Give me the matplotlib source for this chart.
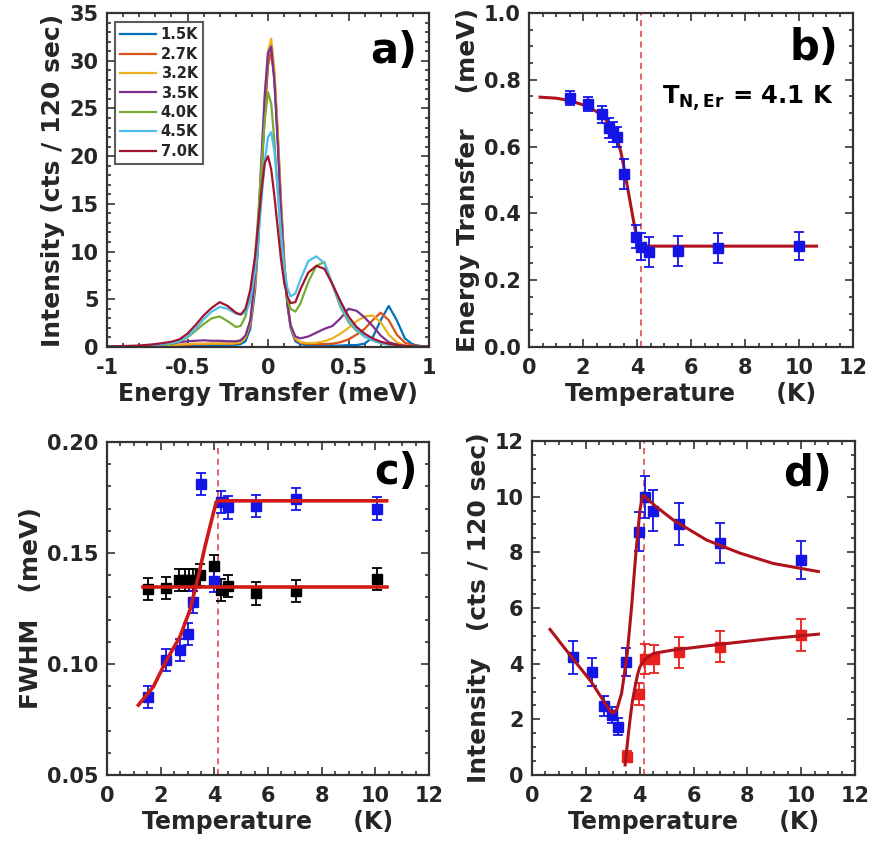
import numpy as np
import matplotlib
matplotlib.use("Agg")
import matplotlib.pyplot as plt
from matplotlib.ticker import MultipleLocator

plt.rcParams['font.family'] = ['DejaVu Sans']
plt.rcParams['font.weight'] = 'bold'
plt.rcParams['axes.labelweight'] = 'bold'
TXT = '#262626'

# ---------------- Panel a: spectra ----------------
E_grid = [-1.0, -0.8, -0.7, -0.6, -0.55, -0.5, -0.45, -0.4, -0.35, -0.3, -0.25, -0.2,
          -0.17, -0.14, -0.11, -0.08, -0.06, -0.04, -0.02, 0.0, 0.02, 0.04, 0.06, 0.08,
          0.1, 0.12, 0.14, 0.17, 0.2, 0.25, 0.3, 0.35, 0.4, 0.45, 0.5, 0.55, 0.6, 0.65,
          0.7, 0.75, 0.8, 0.85, 0.9, 0.95, 1.0]
spec_labels = ['1.5K', '2.7K', '3.2K', '3.5K', '4.0K', '4.5K', '7.0K']
spec_colors = ['#0072BD', '#D95319', '#EDB120', '#7E2F8E', '#77AC30', '#4DBEEE', '#A2142F']
I_1p5 = [0.05, 0.05, 0.05, 0.1, 0.1, 0.15, 0.15, 0.2, 0.2, 0.2, 0.2, 0.25, 0.3, 0.6, 1.9, 6.0,
         11.0, 17.8, 24.6, 29.6, 31.0, 28.0, 22.0, 15.0, 8.8, 4.5, 2.0, 0.6, 0.3, 0.2, 0.15,
         0.15, 0.15, 0.15, 0.2, 0.2, 0.35, 1.0, 2.8, 4.3, 2.8, 0.9, 0.25, 0.1, 0.05]
I_2p7 = [0.05, 0.05, 0.1, 0.15, 0.2, 0.25, 0.3, 0.3, 0.35, 0.35, 0.35, 0.35, 0.5, 1.0, 2.4, 6.6,
         12.0, 18.6, 25.0, 29.5, 31.0, 28.5, 22.5, 15.5, 9.2, 4.8, 2.2, 0.8, 0.45, 0.3, 0.3,
         0.3, 0.35, 0.5, 0.8, 1.3, 1.9, 2.8, 3.6, 2.8, 1.3, 0.45, 0.15, 0.08, 0.05]
I_3p2 = [0.05, 0.05, 0.1, 0.2, 0.25, 0.3, 0.35, 0.35, 0.35, 0.35, 0.35, 0.4, 0.5, 1.0, 2.5, 6.8,
         12.3, 19.2, 26.0, 31.0, 32.3, 29.0, 22.8, 15.6, 9.2, 4.8, 2.2, 0.9, 0.5, 0.4, 0.45,
         0.6, 0.9, 1.4, 2.0, 2.7, 3.2, 3.3, 2.6, 1.3, 0.5, 0.15, 0.08, 0.05, 0.05]
I_3p5 = [0.05, 0.1, 0.2, 0.35, 0.5, 0.6, 0.65, 0.7, 0.65, 0.65, 0.6, 0.6, 0.7, 1.2, 2.8, 7.5,
         13.2, 20.0, 26.5, 30.8, 31.5, 27.8, 21.5, 14.6, 8.6, 4.6, 2.3, 1.1, 0.9, 1.1, 1.5,
         1.9, 2.2, 3.0, 4.0, 3.8, 3.1, 2.2, 1.2, 0.5, 0.25, 0.1, 0.05, 0.05, 0.05]
I_4p0 = [0.05, 0.1, 0.15, 0.35, 0.6, 1.0, 1.7, 2.4, 3.0, 3.2, 2.7, 2.1, 2.2, 3.2, 5.5, 9.5,
         14.0, 19.0, 23.8, 26.7, 25.5, 21.5, 16.5, 11.5, 7.5, 5.0, 4.0, 3.7, 4.5, 6.8, 8.5,
         8.9, 6.5, 4.2, 2.6, 1.7, 1.1, 0.7, 0.4, 0.25, 0.15, 0.1, 0.08, 0.05, 0.05]
I_4p5 = [0.05, 0.1, 0.2, 0.4, 0.6, 1.1, 1.9, 2.9, 3.7, 4.2, 4.0, 3.5, 3.4, 3.6, 4.8, 8.0,
         11.5, 15.5, 19.5, 22.0, 22.5, 20.5, 16.5, 12.0, 8.5, 6.2, 5.3, 5.6, 7.0, 9.0, 9.5,
         8.8, 6.6, 4.4, 2.8, 1.8, 1.1, 0.7, 0.4, 0.25, 0.15, 0.1, 0.08, 0.05, 0.05]
I_7p0 = [0.05, 0.15, 0.3, 0.55, 0.8, 1.4, 2.3, 3.3, 4.1, 4.7, 4.3, 3.6, 3.4, 4.0, 6.0, 9.5,
         13.0, 16.5, 19.3, 20.0, 18.6, 15.8, 12.5, 9.3, 6.8, 5.3, 4.6, 4.7, 6.0, 7.8, 8.5,
         8.2, 6.6, 4.8, 3.2, 2.1, 1.4, 0.9, 0.55, 0.35, 0.2, 0.12, 0.08, 0.05, 0.05]
spectra = [I_1p5, I_2p7, I_3p2, I_3p5, I_4p0, I_4p5, I_7p0]

# ---------------- Panel b: energy transfer ----------------
Tb = [1.5, 2.2, 2.7, 2.95, 3.1, 3.25, 3.5, 3.95, 4.15, 4.45, 5.5, 7.0, 10.0]
Eb = [0.745, 0.728, 0.697, 0.657, 0.645, 0.63, 0.518, 0.33, 0.30, 0.285, 0.288, 0.296, 0.302]
Eb_err = [0.02, 0.02, 0.025, 0.03, 0.03, 0.03, 0.045, 0.035, 0.04, 0.045, 0.045, 0.045, 0.042]
Tb_fit = [0.41, 1.0, 1.5, 2.0, 2.5, 2.75, 3.0, 3.25, 3.4, 3.5, 3.6, 3.7, 3.8, 3.9, 4.0, 4.1, 4.2, 10.65]
Eb_fit = [0.748, 0.745, 0.738, 0.725, 0.705, 0.69, 0.665, 0.625, 0.585, 0.545, 0.50, 0.455,
          0.41, 0.365, 0.33, 0.308, 0.302, 0.302]

# ---------------- Panel c: FWHM ----------------
Tc_blue = [1.52, 2.2, 2.72, 3.0, 3.2, 3.5, 3.97, 4.25, 4.52, 5.55, 7.05, 10.05]
Wc_blue = [0.0853, 0.1018, 0.1063, 0.1134, 0.128, 0.181, 0.1375, 0.1728, 0.1705, 0.171, 0.1745, 0.170]
Wc_blue_err = [0.005] * 12
Tc_black = [1.52, 2.2, 2.7, 2.9, 3.05, 3.2, 3.45, 4.0, 4.25, 4.52, 5.55, 7.05, 10.05]
Wc_black = [0.1338, 0.1344, 0.138, 0.138, 0.138, 0.138, 0.140, 0.1443, 0.1335, 0.1352, 0.1318, 0.1329, 0.1383]
Wc_black_err = [0.005] * 13
Tc_fit_blue = [1.17, 1.73, 2.22, 2.72, 3.09, 3.4, 3.65, 3.9, 4.07, 4.15, 10.42]
Wc_fit_blue = [0.0815, 0.0898, 0.1018, 0.1123, 0.1243, 0.1393, 0.1528, 0.1649, 0.173, 0.1735, 0.1735]
Tc_fit_black = [1.34, 10.42]
Wc_fit_black = [0.1347, 0.1347]

# ---------------- Panel d: intensity ----------------
Td_blue = [1.51, 2.22, 2.69, 2.96, 3.21, 3.49, 3.99, 4.2, 4.51, 5.47, 6.98, 9.98]
Id_blue = [4.23, 3.71, 2.48, 2.16, 1.74, 4.05, 8.74, 10.0, 9.5, 9.02, 8.35, 7.73]
Id_blue_err = [0.6, 0.5, 0.35, 0.3, 0.3, 0.5, 0.7, 0.75, 0.75, 0.75, 0.72, 0.68]
Td_red = [3.52, 3.99, 4.2, 4.52, 5.47, 6.98, 9.98]
Id_red = [0.66, 2.9, 4.17, 4.16, 4.41, 4.61, 5.03]
Id_red_err = [0.2, 0.4, 0.55, 0.5, 0.55, 0.55, 0.57]
Td_fit_blue = [0.67, 1.5, 2.2, 2.6, 2.9, 3.0, 3.15, 3.33, 3.54, 3.7, 3.86, 4.01, 4.1, 4.14,
               4.6, 5.25, 6.49, 7.73, 8.96, 10.64]
Id_fit_blue = [5.23, 4.2, 3.35, 2.75, 2.3, 2.22, 2.35, 2.94, 4.37, 6.05, 7.97, 9.52, 10.0, 10.05,
               9.65, 9.16, 8.44, 7.97, 7.6, 7.31]
Td_fit_red = [3.46, 3.55, 3.64, 3.73, 3.83, 3.92, 4.01, 4.2, 4.51, 5.25, 7.11, 8.96, 10.64]
Id_fit_red = [0.36, 1.2, 1.98, 2.65, 3.17, 3.6, 3.89, 4.16, 4.37, 4.49, 4.71, 4.91, 5.06]

T_neel = 4.15

# ---------------- Figure ----------------
W, H = 872, 846
fig = plt.figure(figsize=(W / 100, H / 100), dpi=100)

XL = 17
YL = 18


def rect(l, r, t, b):
    return [l / W, 1 - b / H, (r - l) / W, (b - t) / H]


def style(ax):
    for s in ax.spines.values():
        s.set_linewidth(1.6)
        s.set_color('#333333')
    ax.tick_params(which='both', direction='in', top=True, right=True, colors='#333333',
                   labelcolor=TXT, labelsize=15, width=1.2)
    ax.tick_params(which='major', length=6, pad=6)
    ax.tick_params(axis='x', which='major', pad=8)
    ax.tick_params(which='minor', length=3)
    for lab in ax.get_xticklabels() + ax.get_yticklabels():
        lab.set_fontweight('bold')


FIT_DARK = '#B0121B'
FIT_C = '#D01A1A'
BLUE = '#1414E6'
RED = '#E8201E'
VCOL = '#E0393E'

# Panel a
axa = fig.add_axes(rect(107, 429, 13, 347))
for y, c, lab in zip(spectra, spec_colors, spec_labels):
    axa.plot(E_grid, y, color=c, lw=1.6, label=lab)
axa.set_xlim(-1, 1)
axa.set_ylim(0, 35)
axa.xaxis.set_minor_locator(MultipleLocator(0.1))
axa.yaxis.set_major_locator(MultipleLocator(5))
axa.yaxis.set_minor_locator(MultipleLocator(1))
axa.set_xticks([-1, -0.5, 0, 0.5, 1])
axa.set_xticklabels(['-1', '-0.5', '0', '0.5', '1'])
style(axa)
axa.set_xlabel('Energy Transfer (meV)', fontsize=XL, color=TXT, labelpad=3)
axa.set_ylabel('Intensity (cts / 120 sec)', fontsize=YL, color=TXT, labelpad=3)
leg = axa.legend(loc='upper left', bbox_to_anchor=(0.024, 0.972), frameon=True,
                 fancybox=False, edgecolor='#333333', handlelength=2.5, borderpad=0.35,
                 labelspacing=0.3, handletextpad=0.3, borderaxespad=0.0,
                 prop={'weight': 'bold', 'size': 10.5})
leg.get_frame().set_linewidth(1.5)
for t in leg.get_texts():
    t.set_color(TXT)
axa.text(0.965, 0.885, 'a)', transform=axa.transAxes, ha='right', va='center',
         fontsize=30, fontweight='bold', color='black')

# Panel b
axb = fig.add_axes(rect(529, 853, 13, 347))
axb.axvline(T_neel, color=VCOL, lw=1.1, ls=(0, (4, 3)))
axb.plot(Tb_fit, Eb_fit, color=FIT_DARK, lw=2.2, zorder=3)
axb.errorbar(Tb, Eb, yerr=Eb_err, fmt='s', color=BLUE, ms=7, capsize=3.5, elinewidth=1.3,
             capthick=1.3, zorder=4)
axb.set_xlim(0, 12)
axb.set_ylim(0, 1.0)
axb.xaxis.set_major_locator(MultipleLocator(2))
axb.xaxis.set_minor_locator(MultipleLocator(0.5))
axb.yaxis.set_minor_locator(MultipleLocator(0.05))
axb.set_yticks([0, 0.2, 0.4, 0.6, 0.8, 1.0])
axb.set_yticklabels(['0.0', '0.2', '0.4', '0.6', '0.8', '1.0'])
style(axb)
axb.set_xlabel('Temperature     (K)', fontsize=XL, color=TXT, labelpad=3)
axb.set_ylabel('Energy Transfer    (meV)', fontsize=YL, color=TXT, labelpad=3)
axb.text(0.954, 0.895, 'b)', transform=axb.transAxes, ha='right', va='center',
         fontsize=30, fontweight='bold', color='black')
axb.text(0.676, 0.745, r'$\mathbf{T_{N,Er}}$ = 4.1 K', transform=axb.transAxes, ha='center',
         va='center', fontsize=17.5, fontweight='bold', color='black')

# Panel c
axc = fig.add_axes(rect(107, 429, 442, 775))
axc.axvline(T_neel, color=VCOL, lw=1.1, ls=(0, (4, 3)))
axc.errorbar(Tc_black, Wc_black, yerr=Wc_black_err, fmt='s', color='black', ms=7, capsize=3.5,
             elinewidth=1.3, capthick=1.3, zorder=3)
axc.errorbar(Tc_blue, Wc_blue, yerr=Wc_blue_err, fmt='s', color=BLUE, ms=7, capsize=3.5,
             elinewidth=1.3, capthick=1.3, zorder=3)
axc.plot(Tc_fit_black, Wc_fit_black, color=FIT_C, lw=2.6, zorder=5)
axc.plot(Tc_fit_blue, Wc_fit_blue, color=FIT_C, lw=2.6, zorder=5)
axc.set_xlim(0, 12)
axc.set_ylim(0.05, 0.20)
axc.xaxis.set_major_locator(MultipleLocator(2))
axc.xaxis.set_minor_locator(MultipleLocator(0.5))
axc.yaxis.set_minor_locator(MultipleLocator(0.01))
axc.set_yticks([0.05, 0.10, 0.15, 0.20])
axc.set_yticklabels(['0.05', '0.10', '0.15', '0.20'])
style(axc)
axc.set_xlabel('Temperature     (K)', fontsize=XL, color=TXT, labelpad=3)
axc.set_ylabel('FWHM   (meV)', fontsize=YL, color=TXT, labelpad=3)
axc.text(0.966, 0.91, 'c)', transform=axc.transAxes, ha='right', va='center',
         fontsize=30, fontweight='bold', color='black')

# Panel d
axd = fig.add_axes(rect(532, 855, 441, 775))
axd.axvline(T_neel, color=VCOL, lw=1.1, ls=(0, (4, 3)))
axd.errorbar(Td_blue, Id_blue, yerr=Id_blue_err, fmt='s', color=BLUE, ms=7, capsize=3.5,
             elinewidth=1.3, capthick=1.3, zorder=3)
axd.errorbar(Td_red, Id_red, yerr=Id_red_err, fmt='s', color=RED, ms=7, capsize=3.5,
             elinewidth=1.3, capthick=1.3, zorder=3)
axd.plot(Td_fit_blue, Id_fit_blue, color=FIT_DARK, lw=2.2, zorder=5)
axd.plot(Td_fit_red, Id_fit_red, color=FIT_DARK, lw=2.2, zorder=5)
axd.set_xlim(0, 12)
axd.set_ylim(0, 12)
axd.xaxis.set_major_locator(MultipleLocator(2))
axd.xaxis.set_minor_locator(MultipleLocator(0.5))
axd.yaxis.set_major_locator(MultipleLocator(2))
axd.yaxis.set_minor_locator(MultipleLocator(0.5))
style(axd)
axd.set_xlabel('Temperature     (K)', fontsize=XL, color=TXT, labelpad=3)
axd.set_ylabel('Intensity   (cts / 120 sec)', fontsize=YL, color=TXT, labelpad=3)
axd.text(0.929, 0.90, 'd)', transform=axd.transAxes, ha='right', va='center',
         fontsize=30, fontweight='bold', color='black')

fig.savefig('out.png', dpi=100)
